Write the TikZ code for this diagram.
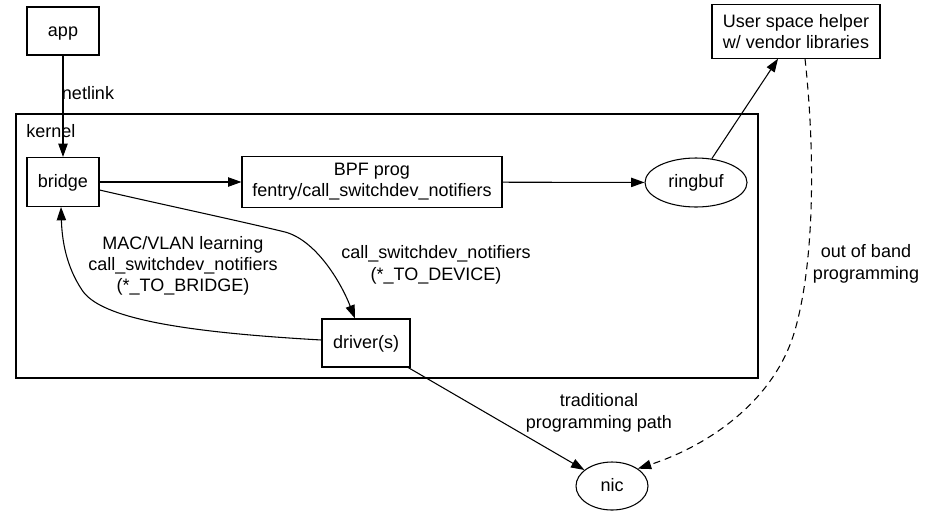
\documentclass[tikz,border=0pt]{standalone}
\usepackage{fontspec}
\setmainfont{Liberation Sans}
\usetikzlibrary{arrows.meta,shapes.geometric}
\begin{document}
\begin{tikzpicture}[x=0.75pt,y=-0.75pt,
  every node/.style={font=\fontsize{13.5}{16}\selectfont},
  box/.style={draw, line width=0.8pt, rectangle, inner sep=0pt, align=center},
  oval/.style={draw, line width=0.8pt, ellipse, inner sep=0pt},
  oneline/.style={text height=11pt, text depth=3pt},
  lbl/.style={align=center, inner sep=0pt},
  conn/.style={line width=0.8pt, -{Triangle[length=10pt,width=7pt]}},
  dconn/.style={conn, dash pattern=on 5.25pt off 3.75pt}]
\useasboundingbox (0,0) rectangle (927,511);
% kernel cluster
\node[box, minimum width=556.5pt, minimum height=198pt] (kernel) at (387,246) {};
\node[anchor=west, inner sep=0pt] (kernellbl) at (26,131) {kernel};
% nodes
\node[box, oneline, minimum width=54pt, minimum height=36pt] (app) at (63,31) {app};
\node[box, oneline, minimum width=54pt, minimum height=36.75pt] (bridge) at (63,182) {bridge};
\node[box, minimum width=195pt, minimum height=38pt] (bpf) at (372,182) {BPF prog\\fentry/call\_switchdev\_notifiers};
\node[oval, oneline, minimum width=76.5pt, minimum height=36.75pt] (ringbuf) at (696,182.5) {ringbuf};
\node[box, minimum width=126pt, minimum height=40pt] (helper) at (796,31.5) {User space helper\\w/ vendor libraries};
\node[box, oneline, minimum width=66pt, minimum height=36pt] (driver) at (366,343) {driver(s)};
\node[oval, oneline, minimum width=54pt, minimum height=36pt] (nic) at (612,486) {nic};
% edges
\draw[conn] (app) -- (bridge);
\node[lbl] (netlinklbl) at (88,93) {netlink};
\draw[conn] (bridge) -- (bpf);
\draw[conn] (bpf) -- (ringbuf);
\draw[conn] (ringbuf) -- (helper);
\draw[conn] ([yshift=-6pt]bridge.east) .. controls (160,204) and (240,221) .. (285,232)
  .. controls (315,240) and (340,280) .. ([xshift=-8.25pt]driver.north);
\node[lbl] (todevlbl) at (436,265) {call\_switchdev\_notifiers\\(*\_TO\_DEVICE)};
\draw[conn] ([yshift=2.25pt]driver.west) .. controls (180,332) and (100,318) .. (82,290)
  .. controls (66,266) and (62,240) .. ([xshift=-1.5pt]bridge.south);
\node[lbl] (tobrlbl) at (183,266) {MAC/VLAN learning\\call\_switchdev\_notifiers\\(*\_TO\_BRIDGE)};
\draw[conn] (driver) -- (nic);
\node[lbl] (tradlbl) at (599,413) {traditional\\programming path};
\draw[dconn] ([xshift=6.75pt]helper.south) .. controls (815,150) and (815,260) .. (795,330)
  .. controls (775,400) and (710,445) .. (nic.north east);
\node[lbl] (ooblbl) at (866,264) {out of band\\programming};
\end{tikzpicture}
\end{document}
